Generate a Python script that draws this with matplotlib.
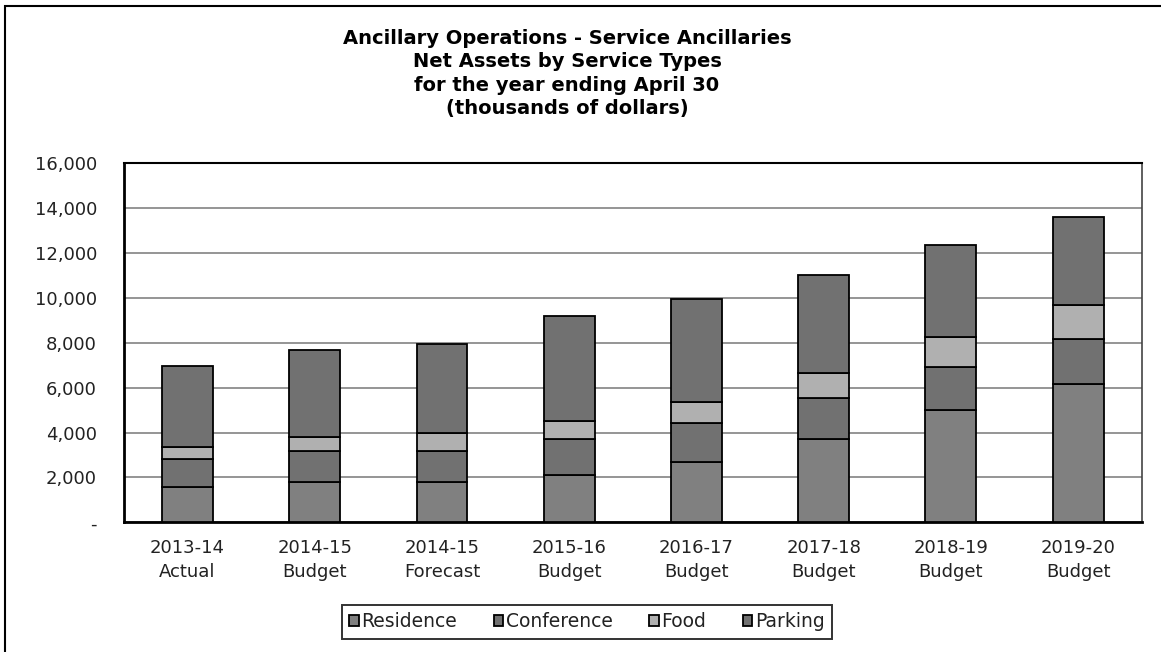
import matplotlib
matplotlib.use("Agg")
import matplotlib.pyplot as plt
from matplotlib.patches import Rectangle
from matplotlib.ticker import FuncFormatter
import numpy as np

categories = ["2013-14\nActual", "2014-15\nBudget", "2014-15\nForecast", "2015-16\nBudget",
              "2016-17\nBudget", "2017-18\nBudget", "2018-19\nBudget", "2019-20\nBudget"]
residence = [1570, 1800, 1780, 2100, 2690, 3730, 5000, 6180]
conference = [1230, 1400, 1380, 1630, 1720, 1830, 1920, 2000]
food = [550, 600, 820, 770, 940, 1110, 1320, 1500]
parking = [3600, 3890, 3980, 4680, 4620, 4370, 4140, 3940]
series_names = ["Residence", "Conference", "Food", "Parking"]
colors = ["#808080", "#717171", "#b0b0b0", "#717171"]
yticks = [0, 2000, 4000, 6000, 8000, 10000, 12000, 14000, 16000]

plt.rcParams['font.family'] = ['DejaVu Sans']
W, H = 1161, 652
fig = plt.figure(figsize=(W / 100, H / 100), dpi=100)

# outer border (only left/top visible)
fig.add_artist(Rectangle((4.5 / W, -0.05), 1.2, 1 - 5.5 / H + 0.05, transform=fig.transFigure,
                         fill=False, edgecolor="black", linewidth=1.5))

ax = fig.add_axes([124 / W, 1 - 522.3 / H, (1141.7 - 124) / W, (522.3 - 163.3) / H])
x = np.arange(len(categories))
bottom = np.zeros(len(categories))
for name, vals, c in zip(series_names, [residence, conference, food, parking], colors):
    ax.bar(x, vals, 0.4, bottom=bottom, color=c, edgecolor="black", linewidth=1.3,
           label=name, zorder=3)
    bottom += np.array(vals)

ax.set_xlim(-0.5, len(categories) - 0.5)
ax.set_ylim(0, 16000)
ax.set_yticks(yticks)
ax.yaxis.set_major_formatter(FuncFormatter(lambda v, p: "-" if v == 0 else f"{int(v):,}"))
ax.set_xticks(x)
ax.set_xticklabels(categories, fontsize=13, color="#222222", linespacing=1.45)
ax.tick_params(axis="y", labelsize=13, length=0, pad=19.5, labelcolor="#222222")
ax.tick_params(axis="x", length=0, pad=12)
ax.grid(axis="y", color="#8c8c8c", linewidth=1.3, zorder=0)
ax.spines["top"].set_linewidth(1.5)
ax.spines["top"].set_color("black")
ax.spines["right"].set_linewidth(1.2)
ax.spines["right"].set_color("#444444")
for s in ["left", "bottom"]:
    ax.spines[s].set_linewidth(2.0)
    ax.spines[s].set_color("black")

fig.text(567 / W, 1 - 73.5 / H,
         "Ancillary Operations - Service Ancillaries\nNet Assets by Service Types\nfor the year ending April 30\n(thousands of dollars)",
         ha="center", va="center", fontsize=14, fontweight="bold", linespacing=1.27)

leg = ax.legend(loc="center", bbox_to_anchor=((587 - 124) / (1141.7 - 124), -(621.5 - 522.3) / (522.3 - 163.3)),
                ncol=4, frameon=True, fancybox=False, fontsize=13.5, handlelength=0.5,
                handleheight=0.5, handletextpad=0.15, columnspacing=1.95, borderpad=0.4,
                borderaxespad=0)
leg.get_frame().set_edgecolor("black")
leg.get_frame().set_linewidth(1.4)
for t in leg.get_texts():
    t.set_color("#222222")

fig.savefig("out.png", dpi=100)
